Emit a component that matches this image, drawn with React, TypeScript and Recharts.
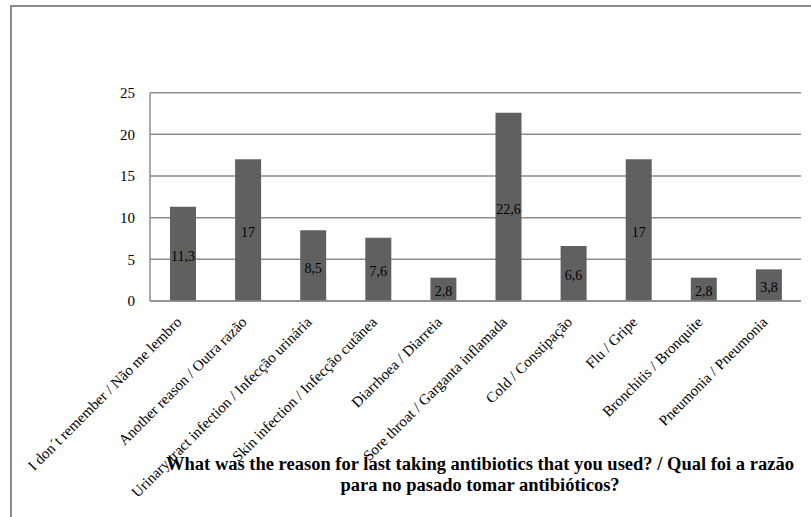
import React from "react";
import { BarChart, Bar, XAxis, YAxis, CartesianGrid, LabelList } from "recharts";

const categories = [
  "I don´t remember / Não me lembro",
  "Another reason / Outra razão",
  "Urinary tract infection / Infecção urinária",
  "Skin infection / Infecção cutânea",
  "Diarrhoea / Diarreia",
  "Sore throat / Garganta inflamada",
  "Cold / Constipação",
  "Flu / Gripe",
  "Bronchitis / Bronquite",
  "Pneumonia / Pneumonia",
];
const values = [11.3, 17, 8.5, 7.6, 2.8, 22.6, 6.6, 17, 2.8, 3.8];
const yTicks = [0, 5, 10, 15, 20, 25];
const titleLines = [
  "What was the reason for last taking antibiotics that you used? / Qual foi a razão",
  "para no pasado tomar antibióticos?",
];

const data = categories.map((name, i) => ({ name, value: values[i] }));

const FONT = '"Liberation Serif", "Times New Roman", serif';

const XTick = (props: any) => {
  const { x, y, payload } = props;
  return (
    <g transform={`translate(${x},${y + 14})`}>
      <text
        x={0}
        y={0}
        textAnchor="end"
        transform="rotate(-45)"
        fontFamily={FONT}
        fontSize={15}
        fill="#000"
      >
        {payload.value}
      </text>
    </g>
  );
};

export default function App() {
  return (
    <div style={{ position: "absolute", left: 0, top: 0, width: 811, height: 517, overflow: "hidden", background: "#fff" }}>
      <div
        style={{
          position: "absolute",
          left: 10,
          top: 5,
          width: 900,
          height: 600,
          border: "2px solid #8a8a8a",
          boxSizing: "border-box",
        }}
      />
      <div style={{ position: "absolute", left: 0, top: 0 }}>
        <BarChart
          width={811}
          height={517}
          data={data}
          margin={{ top: 92.7, right: 10, left: 0, bottom: 56 }}
          barSize={26}
        >
          <CartesianGrid vertical={false} stroke="#8c8c8c" strokeWidth={1.5} />
          <XAxis
            dataKey="name"
            interval={0}
            height={160}
            tickLine={false}
            axisLine={{ stroke: "#8c8c8c", strokeWidth: 1.5 }}
            tick={<XTick />}
          />
          <YAxis
            domain={[0, 25]}
            ticks={yTicks}
            width={150}
            tickLine={false}
            axisLine={{ stroke: "#8c8c8c", strokeWidth: 1.5 }}
            tick={{ fontFamily: FONT, fontSize: 15, fill: "#000" }}
            tickMargin={9}
          />
          <Bar dataKey="value" fill="#606060" isAnimationActive={false}>
            <LabelList
              dataKey="value"
              position="center"
              dy={2}
              formatter={(v: any) => String(v).replace(".", ",")}
              style={{ fontFamily: FONT, fontSize: 14, fill: "#000" }}
            />
          </Bar>
        </BarChart>
      </div>
      <div
        style={{
          position: "absolute",
          left: 150,
          width: 660,
          top: 454,
          textAlign: "center",
          fontFamily: FONT,
          fontWeight: "bold",
          fontSize: 18.5,
          lineHeight: "21px",
          color: "#000",
        }}
      >
        {titleLines.map((l, i) => (
          <div key={i}>{l}</div>
        ))}
      </div>
    </div>
  );
}
